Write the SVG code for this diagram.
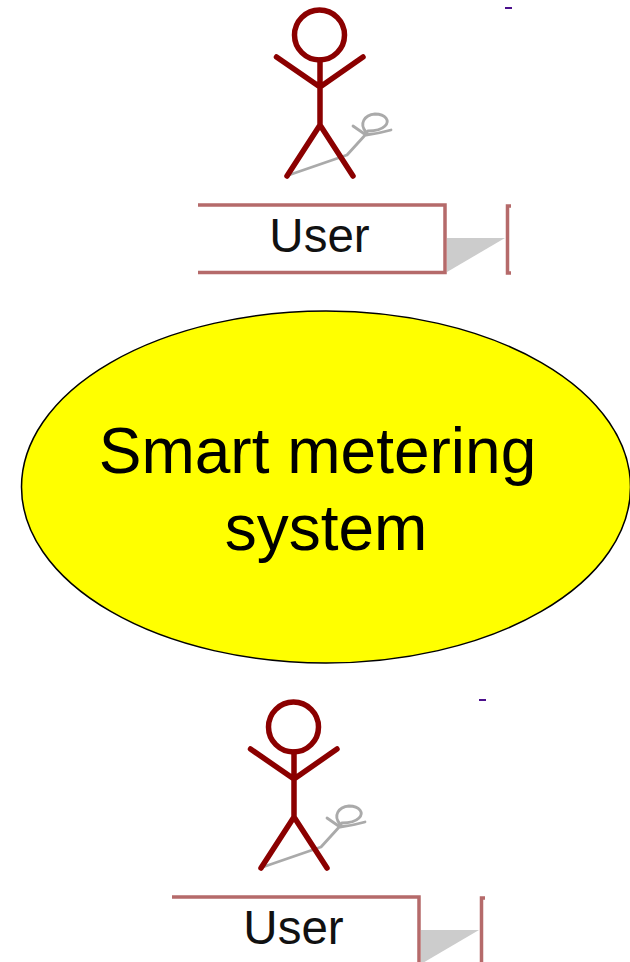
<svg xmlns="http://www.w3.org/2000/svg" width="630" height="962" viewBox="0 0 630 962">
<style>
.fig{fill:none;stroke:#8b0000;stroke-width:5.500;stroke-linecap:round;stroke-linejoin:round}
.mini{fill:none;stroke:#aaaaaa;stroke-width:2.800;stroke-linecap:round;stroke-linejoin:round}
.box{fill:none;stroke:#b56a6a;stroke-width:3.500}
.shadow{fill:#cccccc}
.dash{fill:#4b0f8c}
.label{font-family:"Liberation Sans",Arial,sans-serif;fill:#111111;font-size:47.500px;text-anchor:middle}
.big{font-family:"Liberation Sans",Arial,sans-serif;fill:#000000;font-size:64px;text-anchor:middle}
</style>
<defs>
<g id="actor">
<path class="mini" d="M289 175L347 155L367 133M353 126L366 135C374 134 384 132 391 130M366 132C359 124 364 115 375 114C386 114 390 121 385 126C381 130 374 131 368 131"/>
<circle class="fig" cx="319.500" cy="35" r="25"/>
<path class="fig" d="M276.500 57L320 87L363 57M320 60V125M287 176L320 125L353 176"/>
<rect class="dash" x="505" y="7" width="7" height="2"/>
<path class="shadow" d="M447 238H505L447 272Z"/>
<path class="box" d="M198 205H445V272.500H198"/>
<path class="box" d="M511 206H507.500V273H511"/>
<text class="label" x="319.500" y="252">User</text>
</g>
</defs>
<g id="actor-top"><use href="#actor"/></g>
<g id="system">
<ellipse cx="326" cy="487" rx="304.500" ry="176" fill="#ffff00" stroke="#000000" stroke-width="1.500"/>
<text class="big" x="317.500" y="473">Smart metering</text>
<text class="big" x="326" y="550">system</text>
</g>
<g id="actor-bottom"><use href="#actor" transform="translate(-26 692)"/></g>
<g id="connectors"/>
</svg>
